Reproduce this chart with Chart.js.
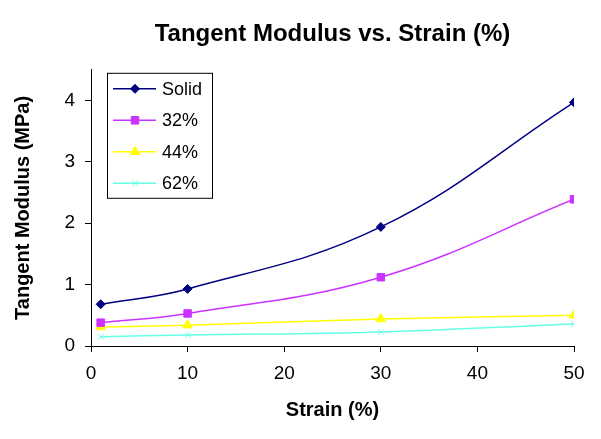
<!DOCTYPE html>
<html>
<head>
<meta charset="utf-8">
<title>Tangent Modulus vs. Strain (%)</title>
<script src="https://cdn.jsdelivr.net/npm/chart.js@4.4.1/dist/chart.umd.min.js"></script>
<style>
  html, body { margin: 0; padding: 0; background: #fff; }
  #wrap { width: 601px; height: 439px; }
</style>
</head>
<body>
<div id="wrap"><canvas id="modulusChart" width="601" height="439"></canvas></div>
<script>
// Strain (%) where the tangent modulus was measured
const strain = [1, 10, 30, 50];

// Tangent modulus (MPa) per sample
const solid = [0.68, 0.93, 1.94, 3.97];
const pct32 = [0.38, 0.53, 1.12, 2.39];
const pct44 = [0.31, 0.34, 0.44, 0.50];
const pct62 = [0.15, 0.18, 0.23, 0.36];

const seriesNames = ['Solid', '32%', '44%', '62%'];
const yTicks = [0, 1, 2, 3, 4];

function toPoints(values) {
    return strain.map((x, i) => ({ x: x, y: values[i] }));
}

// Excel-like series styles
function series(label, values, color, style, radius) {
    return {
        label: label,
        data: toPoints(values),
        showLine: true,
        tension: 0.4,
        borderColor: color,
        borderWidth: 1.5,
        pointStyle: style,
        pointRadius: radius,
        pointBackgroundColor: color,
        pointBorderColor: color,
        pointBorderWidth: 1
    };
}

// Boxed legend sitting inside the plot, top-left
const boxLegend = {
    id: 'boxLegend',
    afterDraw(chart) {
        const ctx = chart.ctx;
        const area = chart.chartArea;
        const left = area.left + 16, top = area.top + 3;
        const w = 105, h = 125;
        ctx.save();
        ctx.fillStyle = '#fff';
        ctx.fillRect(left, top, w, h);
        ctx.strokeStyle = '#000';
        ctx.lineWidth = 1;
        ctx.strokeRect(left + 0.5, top + 0.5, w, h);

        ctx.font = "18px 'Liberation Sans', Arial, sans-serif";
        ctx.textBaseline = 'middle';
        chart.data.datasets.forEach((ds, i) => {
            const y = top + 16 + i * 31.5;
            ctx.strokeStyle = ds.borderColor;
            ctx.lineWidth = ds.borderWidth;
            ctx.beginPath();
            ctx.moveTo(left + 6, y);
            ctx.lineTo(left + 49, y);
            ctx.stroke();
            ctx.fillStyle = ds.pointBackgroundColor;
            ctx.strokeStyle = ds.pointBorderColor;
            ctx.lineWidth = 1;
            Chart.helpers.drawPoint(ctx, {
                pointStyle: ds.pointStyle,
                radius: ds.pointRadius,
                rotation: 0,
                borderWidth: 1
            }, left + 28, y);
            ctx.fillStyle = '#000';
            ctx.fillText(ds.label, left + 55, y + 1);
        });
        ctx.restore();
    }
};

Chart.defaults.font.family = "'Liberation Sans', Arial, sans-serif";
Chart.defaults.color = '#000';

const ctx = document.getElementById('modulusChart').getContext('2d');
new Chart(ctx, {
    type: 'scatter',
    data: {
        datasets: [
            series(seriesNames[0], solid, '#000080', 'rectRot', 4.5),
            series(seriesNames[1], pct32, '#CC33FF', 'rect', 5.3),
            series(seriesNames[2], pct44, '#FFFF00', 'triangle', 5.5),
            series(seriesNames[3], pct62, '#66FFE6', 'crossRot', 4)
        ]
    },
    options: {
        responsive: false,
        animation: false,
        devicePixelRatio: 1,
        layout: { padding: { left: 0, right: 27, top: 0, bottom: 0 } },
        plugins: {
            legend: { display: false },
            tooltip: { enabled: false },
            title: {
                display: true,
                fullSize: false,
                text: 'Tangent Modulus vs. Strain (%)',
                font: { size: 24, weight: 'bold' },
                color: '#000',
                padding: { top: 20, bottom: 21 }
            }
        },
        scales: {
            x: {
                type: 'linear',
                min: 0,
                max: 50,
                ticks: { stepSize: 10, padding: 10, font: { size: 19 } },
                grid: { drawOnChartArea: false, tickLength: 6, color: '#000' },
                border: { color: '#000' },
                title: {
                    display: true,
                    text: 'Strain (%)',
                    font: { size: 20, weight: 'bold' },
                    padding: { top: 0, bottom: 17 }
                },
                afterFit(scale) { scale.height = 93; }
            },
            y: {
                type: 'linear',
                min: 0,
                max: 4.5,
                afterBuildTicks(scale) {
                    scale.ticks = yTicks.map(v => ({ value: v }));
                },
                ticks: { padding: 10, font: { size: 19 } },
                grid: { drawOnChartArea: false, tickLength: 6, color: '#000' },
                border: { color: '#000' },
                title: {
                    display: true,
                    text: 'Tangent Modulus (MPa)',
                    font: { size: 20, weight: 'bold' },
                    padding: { top: 11, bottom: 0 }
                },
                afterFit(scale) { scale.width = 91; }
            }
        }
    },
    plugins: [boxLegend]
});
</script>
</body>
</html>
